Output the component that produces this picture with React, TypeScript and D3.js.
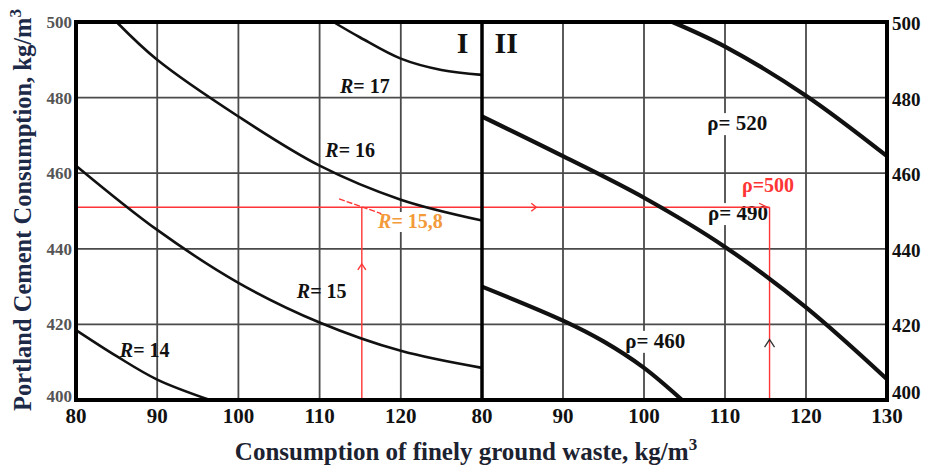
import React from "react";
import * as d3 from "d3";

// nomogram: panel I (strength R) and panel II (density rho)
const xTicks = [80, 90, 100, 110, 120];
const xTicksII = [80, 90, 100, 110, 120, 130];
const yTicks = [400, 420, 440, 460, 480, 500];

// panel I curves, [waste, cement]
const curveR17 = [[111.7, 500], [115, 495.9], [120, 490.3], [125, 487.3], [130, 486]];
const curveR16 = [[85, 500], [90, 490], [100, 475], [110, 462], [120, 453], [130, 447.5]];
const curveR15 = [[80, 462], [90, 445], [100, 431], [110, 420.5], [120, 413], [130, 408.5]];
const curveR14 = [[80, 418.5], [85, 411.6], [90, 405.4], [96.5, 400]];

// panel II curves
const curveP520 = [[103.5, 500], [110, 493.5], [120, 480.5], [130, 464.5]];
const curveP490 = [[80, 475], [90, 464.5], [100, 453.5], [110, 440.5], [120, 424.5], [130, 405.5]];
const curveP460 = [[80, 430], [90, 421], [95, 415.5], [100, 408.5], [104.7, 400]];

// red reading path
const readWaste = 115.2;
const readCement = 451;
const readWasteII = 115.5;
const tangentR158 = [[112.4, 453.2], [117.6, 449.3]];

const W = 930;
const H = 465;
const LEFT = 76;
const MID = 482;
const RIGHT = 887;
const TOP = 22;
const BOTTOM = 400;

const SERIF = "'Liberation Serif', 'DejaVu Serif', serif";
const RED = "#ff3535";

const App = () => {
  const x1 = d3.scaleLinear().domain([80, 130]).range([LEFT, MID]);
  const x2 = d3.scaleLinear().domain([80, 130]).range([MID, RIGHT]);
  const y = d3.scaleLinear().domain([400, 500]).range([BOTTOM, TOP]);

  const line1 = d3.line().x((d) => x1(d[0])).y((d) => y(d[1])).curve(d3.curveCatmullRom.alpha(0.5));
  const line2 = d3.line().x((d) => x2(d[0])).y((d) => y(d[1])).curve(d3.curveCatmullRom.alpha(0.5));

  const gridColor = "#4a4a4a";

  const rLabel = (x, yy, num, color = "#111", bg = false, w = 60) => (
    <g>
      {bg && <rect x={x - 2} y={yy - 16} width={w} height={20} fill="white" />}
      <text x={x} y={yy} fontFamily={SERIF} fontWeight="bold" fontSize={20} fill={color}>
        <tspan fontStyle="italic">R</tspan>= {num}
      </text>
    </g>
  );

  const pLabel = (x, yy, num, color = "#111", w = 70) => (
    <g>
      <rect x={x - 2} y={yy - 17} width={w} height={22} fill="white" />
      <text x={x} y={yy} fontFamily={SERIF} fontWeight="bold" fontSize={21} fill={color}>
        ρ= {num}
      </text>
    </g>
  );

  const arrowUp = (cx, cy, s = 4) =>
    `M${cx - s},${cy + s * 1.5} L${cx},${cy} L${cx + s},${cy + s * 1.5}`;

  return (
    <svg width={W} height={H} style={{ position: "absolute", left: 0, top: 0, background: "white" }}>
      {/* grid */}
      {yTicks.map((t) => (
        <line key={"h" + t} x1={LEFT} x2={RIGHT} y1={y(t)} y2={y(t)} stroke={gridColor} strokeWidth={1.8} />
      ))}
      {xTicks.slice(1).map((t) => (
        <line key={"v1" + t} x1={x1(t)} x2={x1(t)} y1={TOP} y2={BOTTOM} stroke={gridColor} strokeWidth={1.8} />
      ))}
      {xTicksII.slice(1, -1).map((t) => (
        <line key={"v2" + t} x1={x2(t)} x2={x2(t)} y1={TOP} y2={BOTTOM} stroke={gridColor} strokeWidth={1.8} />
      ))}

      {/* labels with white boxes break the grid */}
      {rLabel(x1(117.2), y(445.5), "15,8", "#f39a3a", true, 74)}
      {pLabel(x2(107.8), y(471.4), "520")}
      {pLabel(x2(107.9), y(447.6), "490")}
      {pLabel(x2(97.7), y(413.8), "460")}

      {/* red reading path */}
      <line x1={LEFT} x2={x2(readWasteII)} y1={y(readCement)} y2={y(readCement)} stroke={RED} strokeWidth={1.4} />
      <line x1={x1(readWaste)} x2={x1(readWaste)} y1={BOTTOM} y2={y(readCement)} stroke={RED} strokeWidth={1.4} />
      <line x1={x2(readWasteII)} x2={x2(readWasteII)} y1={y(readCement)} y2={BOTTOM} stroke={RED} strokeWidth={1.4} />
      <path d={line1(tangentR158)} stroke={RED} strokeWidth={1.4} strokeDasharray="6 2" fill="none" />
      <path d={arrowUp(x1(readWaste), y(436))} stroke={RED} strokeWidth={1.4} fill="none" />
      <path
        d={`M${x2(86.7) - 5},${y(readCement) - 4} L${x2(86.7)},${y(readCement)} L${x2(86.7) - 5},${y(readCement) + 4}`}
        stroke={RED} strokeWidth={1.4} fill="none"
      />
      <path
        d={`M${x2(114.2)},${y(readCement) - 4} L${x2(115.4)},${y(readCement) + 0.5} M${x2(114.8)},${y(readCement) + 0.5} L${x2(115.4)},${y(readCement) + 0.5}`}
        stroke={RED} strokeWidth={1.2} fill="none"
      />
      <path d={arrowUp(x2(readWasteII), y(416), 5)} stroke="#333" strokeWidth={1.3} fill="none" />

      {/* curves */}
      {[curveR17, curveR16, curveR15, curveR14].map((c, i) => (
        <path key={"r" + i} d={line1(c)} stroke="#111" strokeWidth={2.6} fill="none" />
      ))}
      {[curveP520, curveP490, curveP460].map((c, i) => (
        <path key={"p" + i} d={line2(c)} stroke="#111" strokeWidth={4.2} fill="none" />
      ))}

      {/* frame */}
      <rect x={LEFT} y={TOP} width={RIGHT - LEFT} height={BOTTOM - TOP} fill="none" stroke="#000" strokeWidth={4} />
      <line x1={MID} x2={MID} y1={TOP} y2={BOTTOM} stroke="#000" strokeWidth={3.5} />

      {/* curve labels */}
      {rLabel(x1(112.5), y(481.2), "17")}
      {rLabel(x1(110.7), y(464.3), "16")}
      {rLabel(x1(107.2), y(427), "15")}
      {rLabel(x1(85.4), y(411.4), "14")}
      <text x={x2(112.1)} y={y(455)} fontFamily={SERIF} fontWeight="bold" fontSize={20} fill={RED}>
        ρ=500
      </text>

      {/* panel marks */}
      <text x={x1(127.6)} y={53} fontFamily={SERIF} fontWeight="bold" fontSize={30} textAnchor="middle" fill="#111">I</text>
      <text x={x2(83)} y={53} fontFamily={SERIF} fontWeight="bold" fontSize={30} textAnchor="middle" fill="#111">II</text>

      {/* tick labels */}
      {xTicks.map((t) => (
        <text key={"xl1" + t} x={x1(t)} y={423} fontFamily={SERIF} fontWeight="bold" fontSize={21} textAnchor="middle" fill="#111">{t}</text>
      ))}
      {xTicksII.map((t) => (
        <text key={"xl2" + t} x={x2(t)} y={423} fontFamily={SERIF} fontWeight="bold" fontSize={21} textAnchor="middle" fill="#111">{t}</text>
      ))}
      {yTicks.map((t) => (
        <text key={"yl" + t} x={LEFT - 4} y={y(t) + (t === 400 ? 2 : 6)} fontFamily={SERIF} fontWeight="bold" fontSize={17} textAnchor="end" fill="#555">{t}</text>
      ))}
      {yTicks.map((t) => (
        <text key={"yr" + t} x={RIGHT + 5} y={y(t) + (t === 400 ? -1 : 8)} fontFamily={SERIF} fontWeight="bold" fontSize={19} fill="#111">{t}</text>
      ))}

      {/* axis titles */}
      <text x={466} y={460} fontFamily={SERIF} fontWeight="bold" fontSize={25} textAnchor="middle" fill="#1c2230">
        Consumption of finely ground waste, kg/m<tspan dy={-10} fontSize={17}>3</tspan>
      </text>
      <text
        transform={`translate(31, 210) rotate(-90)`}
        fontFamily={SERIF} fontWeight="bold" fontSize={24.5} textAnchor="middle" fill="#1c2a48"
      >
        Portland Cement Consumption, kg/m<tspan dy={-10} fontSize={17}>3</tspan>
      </text>
    </svg>
  );
};

export default App;
